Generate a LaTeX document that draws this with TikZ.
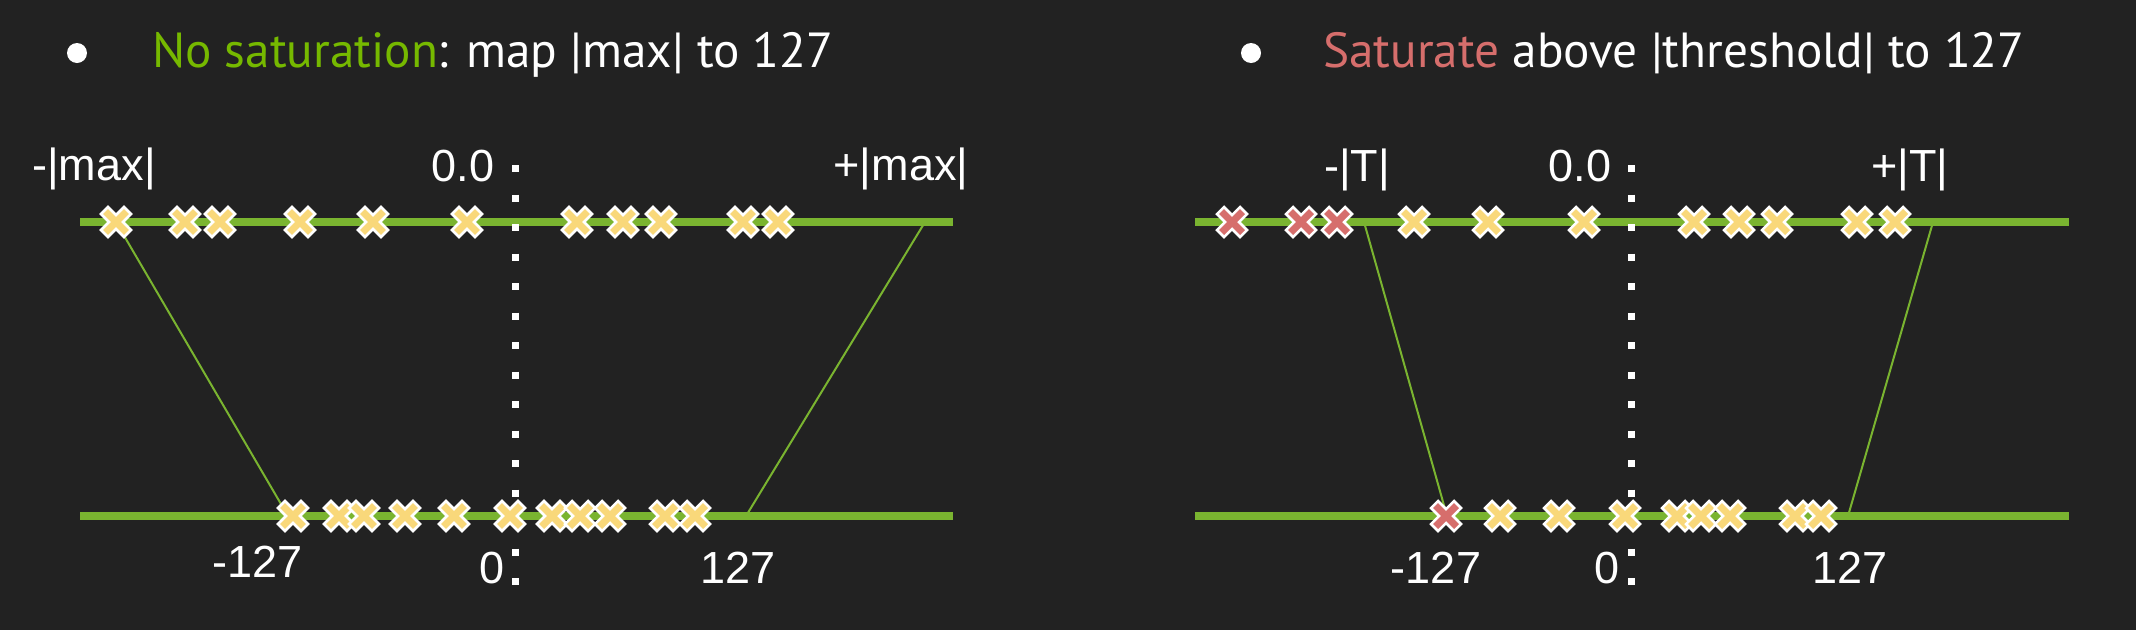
\documentclass[tikz,border=0pt]{standalone}
\usepackage{fontspec}
\setmainfont{Liberation Sans}
\newfontfamily\titlefont{PT Sans}
\definecolor{bg}{RGB}{34,34,34}
\definecolor{ngreen}{RGB}{118,185,0}
\definecolor{lgreen}{RGB}{122,180,48}
\definecolor{cyel}{RGB}{249,216,122}
\definecolor{cred}{RGB}{214,110,108}
\tikzset{
  pics/xmk/.style={code={
    \filldraw[draw=white, line width=2.5pt, fill=#1, line join=miter]
      (-15,-8) -- (-8,-15) -- (0,-7) -- (8,-15) -- (15,-8) -- (7,0) --
      (15,8) -- (8,15) -- (0,7) -- (-8,15) -- (-15,8) -- (-7,0) -- cycle;}},
  axisline/.style={draw=lgreen, line width=8pt},
  mapline/.style={draw=lgreen, line width=2pt},
  zeroline/.style={draw=white, line width=7pt, dash pattern=on 7pt off 22.5pt},
  lbl/.style={text=white, anchor=base, inner sep=0pt, font=\fontsize{45}{52}\selectfont},
  ttl/.style={text=white, anchor=base west, inner sep=0pt, font=\titlefont\fontsize{49.3}{57}\selectfont},
  bul/.style={fill=white, circle, minimum size=20pt, inner sep=0pt}
}
\begin{document}
\begin{tikzpicture}[x=1pt,y=-1pt]
\fill[bg] (0,0) rectangle (2136,630);
\useasboundingbox (0,0) rectangle (2136,630);

% ---------- left panel ----------
\node[bul] (b1) at (77,53) {};
\node[ttl] (t1) at (152,67) {\textcolor{ngreen}{No saturation}: map |max| to 127};

\coordinate (L1a) at (80,222);  \coordinate (L1b) at (953,222);
\coordinate (L2a) at (80,516);  \coordinate (L2b) at (953,516);
\draw[axisline] (L1a) -- (L1b);
\draw[axisline] (L2a) -- (L2b);
\coordinate (Z1a) at (515,165); \coordinate (Z1b) at (515,585);
\draw[zeroline] (Z1a) -- (Z1b);
\coordinate (M1a) at (116,222); \coordinate (M1b) at (288,516);
\coordinate (M2a) at (925,222); \coordinate (M2b) at (746,516);
\draw[mapline] (M1a) -- (M1b);
\draw[mapline] (M2a) -- (M2b);

\foreach \x in {116,185,220,300,373,467,577,623,661,743,778}
  \pic at (\x,222) {xmk=cyel};
\foreach \x in {293,339,364,405,454,510,552,580,610,665,695}
  \pic at (\x,516) {xmk=cyel};

\node[lbl] (la) at (94,180) {-|max|};
\node[lbl] (lb) at (463,181) {0.0};
\node[lbl] (lc) at (901,180) {+|max|};
\node[lbl] (ld) at (258,577) {-127};
\node[lbl] (le) at (492,583) {0};
\node[lbl] (lf) at (738,583) {127};

% ---------- right panel ----------
\node[bul] (b2) at (1251,53) {};
\node[ttl] (t2) at (1323,67) {\textcolor{cred}{Saturate} above |threshold| to 127};

\coordinate (R1a) at (1195,222); \coordinate (R1b) at (2069,222);
\coordinate (R2a) at (1195,516); \coordinate (R2b) at (2069,516);
\draw[axisline] (R1a) -- (R1b);
\draw[axisline] (R2a) -- (R2b);
\coordinate (Z2a) at (1631,165); \coordinate (Z2b) at (1631,585);
\draw[zeroline] (Z2a) -- (Z2b);
\coordinate (N1a) at (1364,222); \coordinate (N1b) at (1447,516);
\coordinate (N2a) at (1933,222); \coordinate (N2b) at (1848,516);
\draw[mapline] (N1a) -- (N1b);
\draw[mapline] (N2a) -- (N2b);

\foreach \x in {1232,1301,1337}
  \pic at (\x,222) {xmk=cred};
\foreach \x in {1414,1488,1584,1694,1739,1777,1857,1895}
  \pic at (\x,222) {xmk=cyel};
\pic at (1446,516) {xmk=cred};
\foreach \x in {1500,1559,1625,1677,1701,1730,1795,1821}
  \pic at (\x,516) {xmk=cyel};

\node[lbl] (ra) at (1357,181) {-|T|};
\node[lbl] (rb) at (1580,181) {0.0};
\node[lbl] (rc) at (1910,181) {+|T|};
\node[lbl] (rd) at (1436,583) {-127};
\node[lbl] (re) at (1607,583) {0};
\node[lbl] (rf) at (1850,583) {127};
\end{tikzpicture}
\end{document}
